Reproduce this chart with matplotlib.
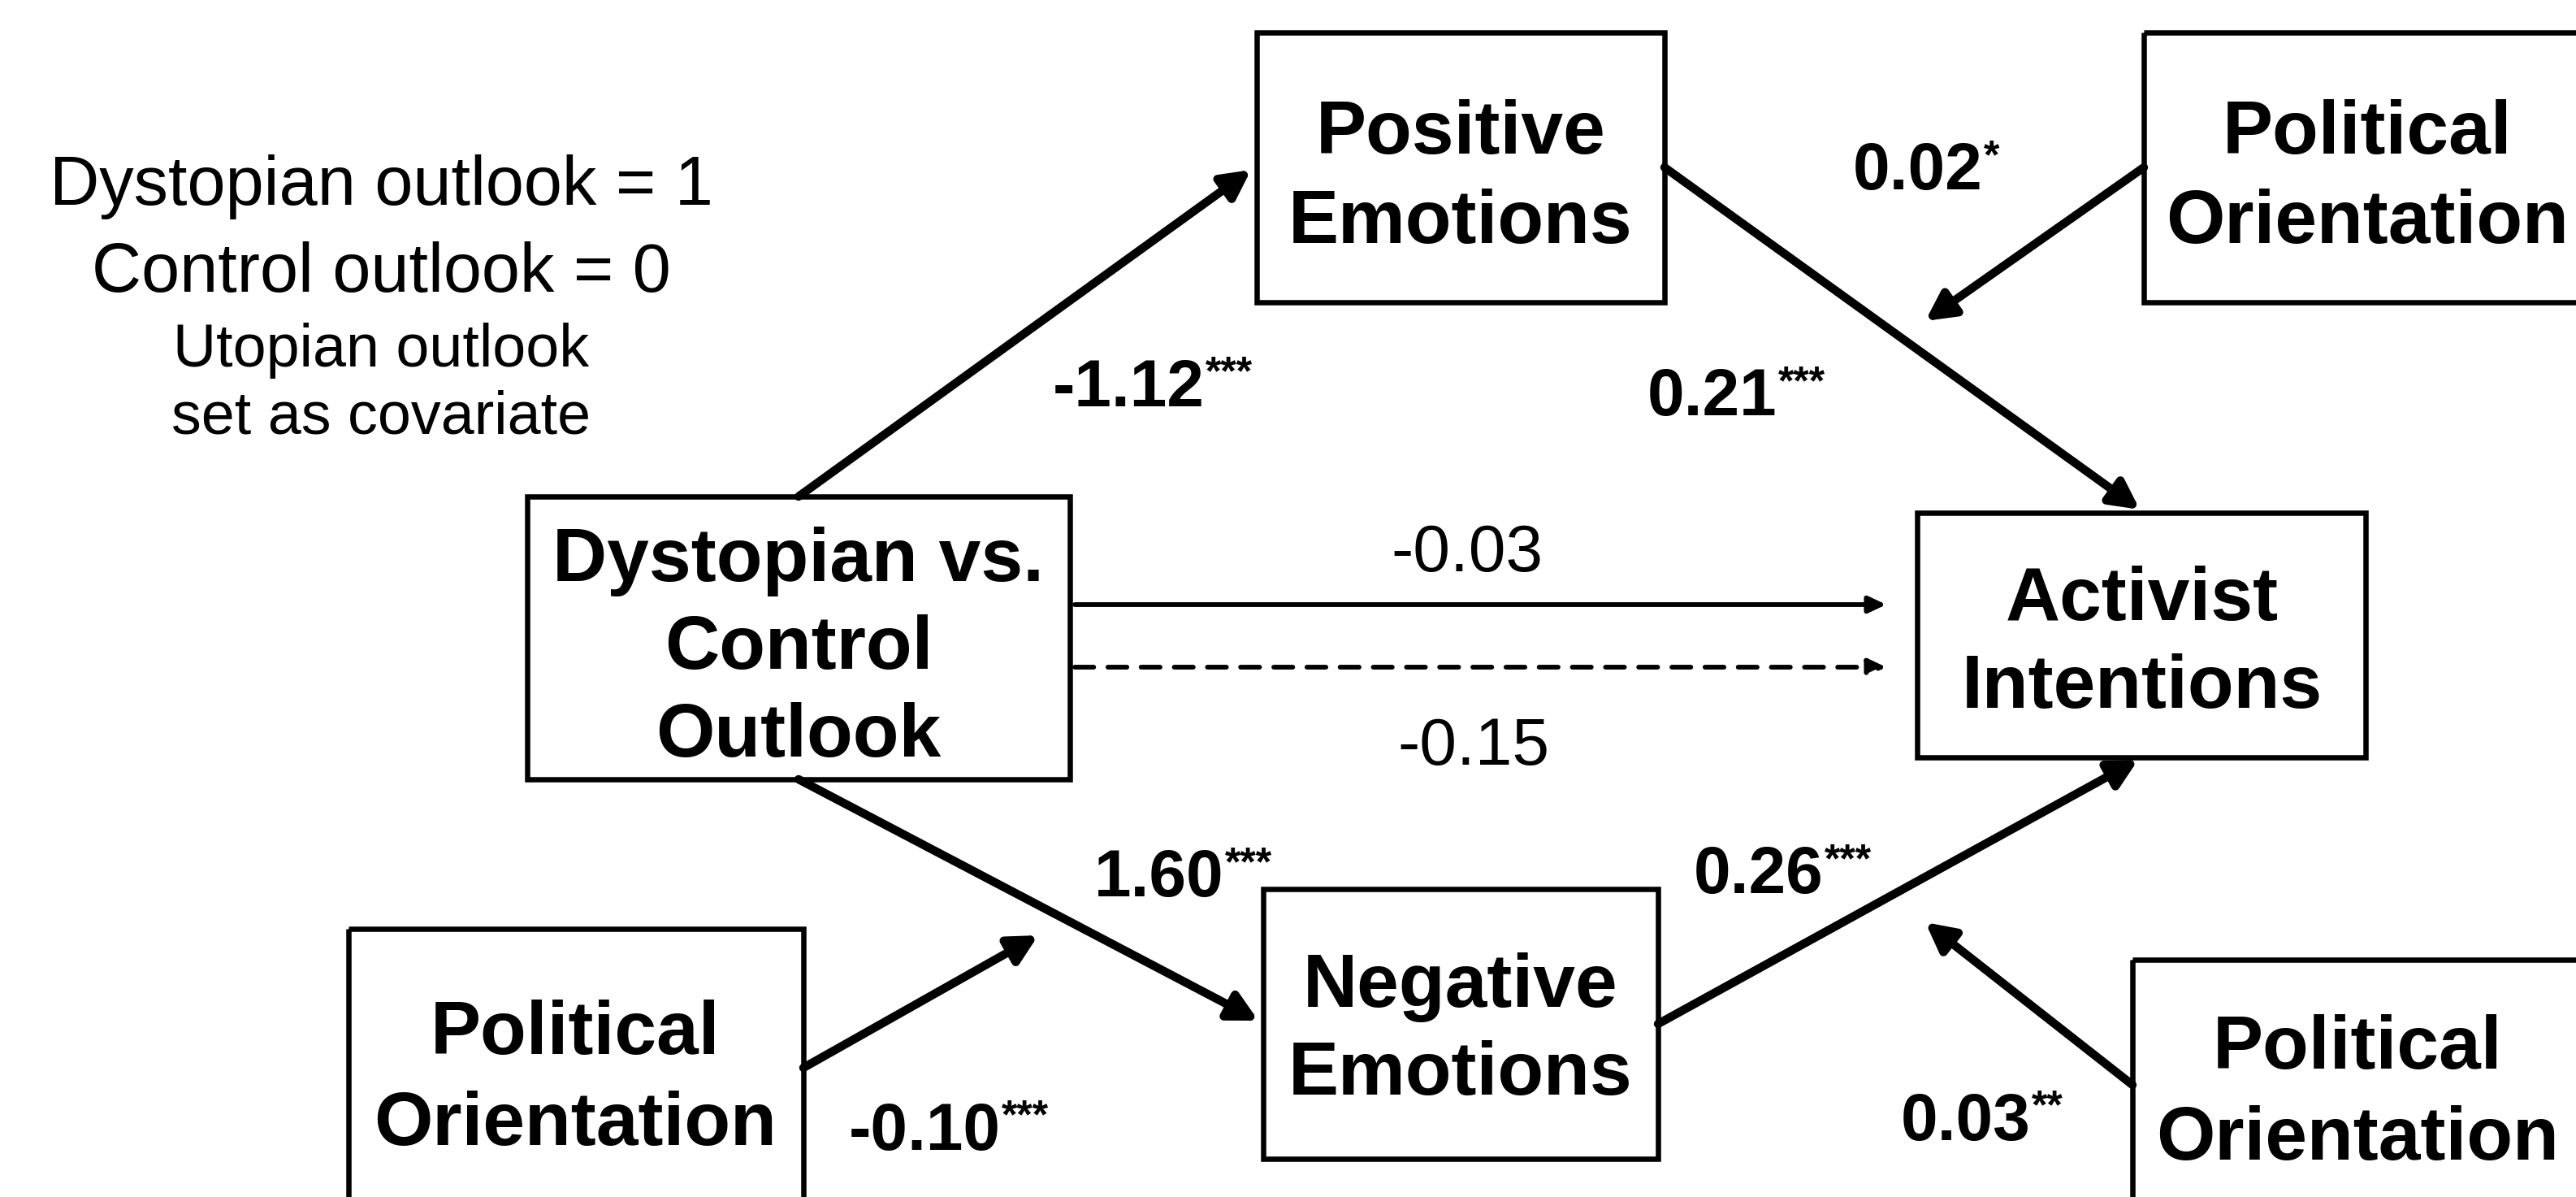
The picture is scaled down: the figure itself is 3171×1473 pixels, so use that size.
import matplotlib
matplotlib.use("Agg")
import matplotlib.pyplot as plt
from matplotlib.patches import Rectangle

plt.rcParams['font.family'] = ['Liberation Sans', 'DejaVu Sans']

W, H = 3171, 1473
DPI = 100

# ---- data ----
node_keys = ['pos', 'po_top', 'dys', 'act', 'neg', 'po_bl', 'po_br']
node_lines = [
    ['Positive', 'Emotions'],
    ['Political', 'Orientation'],
    ['Dystopian vs.', 'Control', 'Outlook'],
    ['Activist', 'Intentions'],
    ['Negative', 'Emotions'],
    ['Political', 'Orientation'],
    ['Political', 'Orientation'],
]
coef_values = ['-1.12', '0.21', '0.02', '-0.03', '-0.15', '1.60', '0.26', '-0.10', '0.03']
coef_stars = ['***', '***', '*', '', '', '***', '***', '***', '**']
coef_bold = [True, True, True, False, False, True, True, True, True]
note_lines = ['Dystopian outlook = 1', 'Control outlook = 0',
              'Utopian outlook', 'set as covariate']

# ---- layout (pixel coords of the 3171x1473 canvas) ----
boxes = {
    'pos': (1547, 40, 2049, 372),
    'po_top': (2639, 40, 3220, 372),
    'dys': (649, 611, 1317, 959),
    'act': (2360, 631, 2912, 932),
    'neg': (1555, 1094, 2041, 1426),
    'po_bl': (429, 1143, 989, 1520),
    'po_br': (2625, 1181, 3220, 1520),
}
text_x = {'pos': 1798, 'po_top': 2914, 'dys': 983, 'act': 2637,
          'neg': 1798, 'po_bl': 708, 'po_br': 2902}
text_y = {'pos': [155, 265], 'po_top': [155, 265], 'dys': [681, 789, 898],
          'act': [730, 837], 'neg': [1205, 1314], 'po_bl': [1264, 1375],
          'po_br': [1282, 1393]}

# (start, end, linewidth pt, dashed, head length, head half-width)
THICK, THIN = 7.5, 4.2
arrows = [
    ((983, 611), (1540, 209), THICK, False, 0.52, 0.27),
    ((2049, 206), (2634, 627), THICK, False, 0.52, 0.27),
    ((983, 959), (1549, 1256), THICK, False, 0.52, 0.27),
    ((2041, 1260), (2632, 935), THICK, False, 0.52, 0.27),
    ((2639, 206), (2370, 395), THICK, False, 0.52, 0.27),
    ((989, 1314), (1278, 1151), THICK, False, 0.52, 0.27),
    ((2625, 1335), (2370, 1135), THICK, False, 0.52, 0.27),
    ((1323, 744), (2322, 744), THIN, False, 0.32, 0.15),
    ((1323, 821), (2322, 821), THIN, True, 0.32, 0.15),
]
# label anchor: (x, centre y of digits, horizontal alignment)
label_pos = [(1296, 470, 'left'), (2028, 482, 'left'), (2281, 204, 'left'),
             (1806, 673, 'center'), (1814, 912, 'center'), (1347, 1074, 'left'),
             (2085, 1070, 'left'), (1045, 1385, 'left'), (2340, 1373, 'left')]
note_y = [222, 328, 425, 507]
note_size = [61, 61, 53, 53]

BOX_FS = 67
COEF_FS = 59
STAR_FS = 36


def em_px(fs):
    return fs * DPI / 72.0


fig = plt.figure(figsize=(W / DPI, H / DPI), dpi=DPI)
ax = fig.add_axes([0, 0, 1, 1])
ax.set_xlim(0, W)
ax.set_ylim(H, 0)
ax.axis('off')

for key, lines in zip(node_keys, node_lines):
    x0, y0, x1, y1 = boxes[key]
    ax.add_patch(Rectangle((x0, y0), x1 - x0, y1 - y0, fill=False,
                           edgecolor='black', linewidth=4.7, clip_on=True))
    for line, yc in zip(lines, text_y[key]):
        ax.text(text_x[key], yc + 0.36 * em_px(BOX_FS), line, fontsize=BOX_FS,
                fontweight='bold', ha='center', va='baseline')

for (p0, p1, lw, dashed, hl, hw) in arrows:
    ax.annotate('', xy=p1, xytext=p0,
                arrowprops=dict(arrowstyle='-|>,head_length=%.2f,head_width=%.2f' % (hl, hw),
                                mutation_scale=40, lw=lw, color='black',
                                linestyle=(0, (4.0, 3.0)) if dashed else '-',
                                shrinkA=0, shrinkB=0))

for val, st, bold, (lx, ly, ha) in zip(coef_values, coef_stars, coef_bold, label_pos):
    w = 'bold' if bold else 'normal'
    t = ax.text(lx, ly + 0.36 * em_px(COEF_FS), val, fontsize=COEF_FS,
                fontweight=w, ha=ha, va='baseline')
    if st:
        ax.annotate(st, xy=(1, 1), xycoords=t, xytext=(1, 2),
                    textcoords='offset points', fontsize=STAR_FS,
                    fontweight='bold', ha='left', va='top')

for line, yc, fs in zip(note_lines, note_y, note_size):
    ax.text(469, yc + 0.36 * em_px(fs), line, fontsize=fs, ha='center', va='baseline')

fig.savefig('out.png', dpi=DPI, facecolor='white')
